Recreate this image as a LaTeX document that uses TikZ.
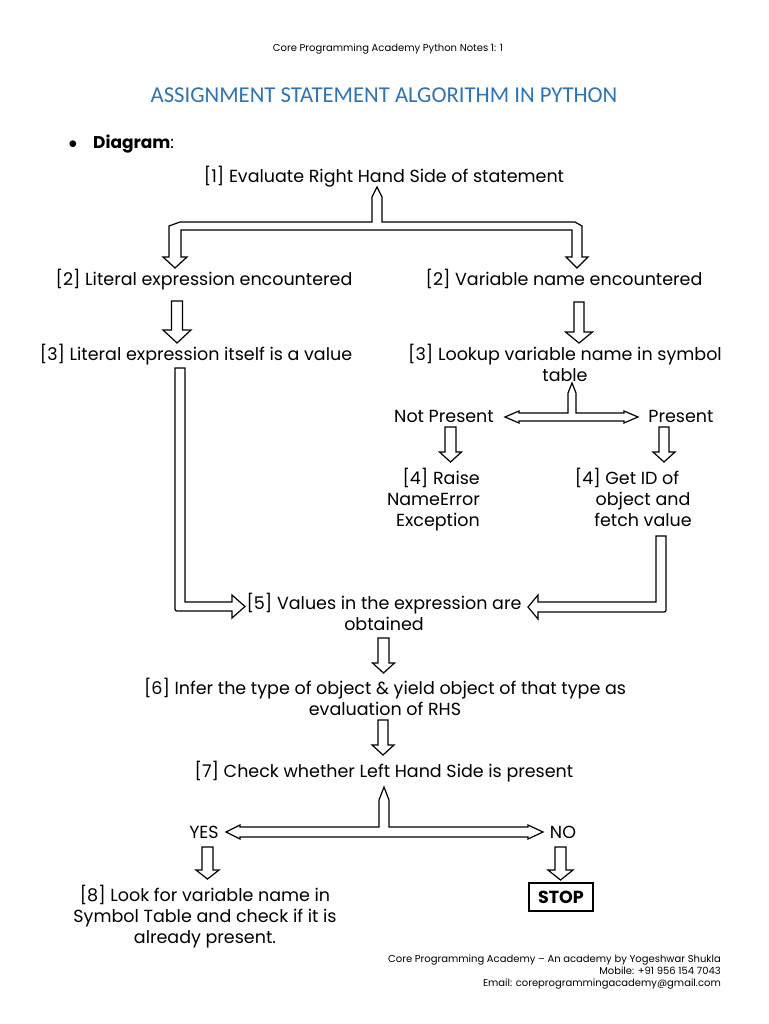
\documentclass[tikz,border=0pt]{standalone}
\usepackage{fontspec}
\setmainfont{Poppins}
\newfontfamily\titlefont{Carlito}
\definecolor{titleblue}{HTML}{2E74B5}
\newcommand\blkdown[6]{%
  \draw[blk] ({#1-#5},#2) -- ({#1+#5},#2) -- ({#1+#5},#3) -- ({#1+#6},#3) -- (#1,#4) -- ({#1-#6},#3) -- ({#1-#5},#3) -- cycle;}
\begin{document}
\begin{tikzpicture}[x=1pt,y=-1pt,
  blk/.style={draw=black, fill=white, line width=1.2pt, line join=miter},
  txt/.style={inner sep=0pt, font=\fontsize{17.5}{21}\selectfont, anchor=base},
  small/.style={inner sep=0pt, font=\fontsize{10}{12}\selectfont, anchor=base}]
\useasboundingbox[fill=white] (0,0) rectangle (768,1024);

% header, title
\node[small] (hdr) at (388,52) {Core Programming Academy Python Notes 1: 1};
\node[inner sep=0pt, anchor=base, font=\titlefont\fontsize{22.7}{26}\selectfont, text=titleblue] (title) at (384,103) {ASSIGNMENT STATEMENT ALGORITHM IN PYTHON};
\node[inner sep=0pt, anchor=base, font=\fontsize{16}{18}\selectfont] (bul) at (73,149) {$\bullet$};
\node[inner sep=0pt, anchor=base west, font=\fontsize{17}{18}\selectfont] (diag) at (93,149) {\textbf{Diagram}:};

% steps
\node[txt] (s1) at (384,183) {[1] Evaluate Right Hand Side of statement};
\node[txt] (s2l) at (204,285) {[2] Literal expression encountered};
\node[txt] (s2r) at (564,285) {[2] Variable name encountered};
\node[txt] (s3l) at (196,360) {[3] Literal expression itself is a value};
\node[txt, align=center] (s3r) at (565,381) {[3] Lookup variable name in symbol\\table};
\node[txt] (np) at (444,422) {Not Present};
\node[txt] (pr) at (681,422) {Present};
\node[txt, align=right, anchor=base east] (s4l) at (480,526) {[4] Raise\\NameError\\Exception};
\node[txt, align=center] (s4r) at (643,526) {[4] Get ID of\hspace*{32pt}\\object and\\fetch value};
\node[txt, align=center] (s5) at (384,630) {[5] Values in the expression are\\obtained};
\node[txt, align=center] (s6) at (385,715) {[6] Infer the type of object \& yield object of that type as\\evaluation of RHS};
\node[txt] (s7) at (384,777) {[7] Check whether Left Hand Side is present};
\node[txt] (yes) at (204,838) {YES};
\node[txt] (no) at (563,838) {NO};
\node[draw, line width=1.2pt, minimum width=64pt, minimum height=28pt, inner sep=0pt, font=\bfseries\fontsize{17.5}{18}\selectfont] (stop) at (561,897) {STOP};
\node[txt, align=center] (s8) at (205,943) {[8] Look for variable name in\\Symbol Table and check if it is\\already present.};

% footer
\node[small, align=right, anchor=base east] (ftr) at (721,986) {Core Programming Academy -- An academy by Yogeshwar Shukla\\Mobile: +91 956 154 7043\\Email: coreprogrammingacademy@gmail.com};

% block arrows
\draw[blk] (169,226) -- (180,222) -- (372,222) -- (372,197) -- (377,187) -- (382,197) -- (382,222) -- (575,222) -- (582,226) -- (582,257) -- (588,257) -- (577,268) -- (566,257) -- (572,257) -- (572,230) -- (181,230) -- (181,257) -- (187,257) -- (175,268) -- (163,257) -- (169,257) -- cycle;

\blkdown{177}{301}{330}{343}{5.5}{14}
\blkdown{579}{302}{332}{343}{5}{13.5}

\draw[blk] (505,417) -- (519,411) -- (519,413) -- (568,413) -- (568,393) -- (572,383) -- (576,393) -- (576,413) -- (624,413) -- (624,411) -- (638,417) -- (624,423) -- (624,421) -- (519,421) -- (519,423) -- cycle;

\blkdown{450.5}{427}{452}{462}{5.5}{11}
\blkdown{664}{427}{452}{462}{5}{11}

\draw[blk] (175,368) -- (185,368) -- (185,602) -- (232,602) -- (232,595) -- (245,606.5) -- (232,618) -- (232,611) -- (179,611) .. controls (175,611) .. (175,607) -- cycle;
\draw[blk] (656,536) -- (666,536) -- (666,608) .. controls (666,612) .. (662,612) -- (538,612) -- (538,619) -- (528,607) -- (538,595) -- (538,602) -- (656,602) -- cycle;

\blkdown{383.5}{638}{663}{673}{5.5}{11}
\blkdown{383}{720}{745}{755}{5}{11}

\draw[blk] (226,832) -- (240,825) -- (240,827) -- (379,827) -- (379,800) -- (384,787) -- (389,800) -- (389,827) -- (528,827) -- (528,825) -- (543,832) -- (528,839) -- (528,837) -- (240,837) -- (240,839) -- cycle;

\blkdown{207.5}{847}{870}{879}{5.5}{11.5}
\blkdown{560.5}{847}{870}{880}{5.5}{12.5}
\end{tikzpicture}
\end{document}
